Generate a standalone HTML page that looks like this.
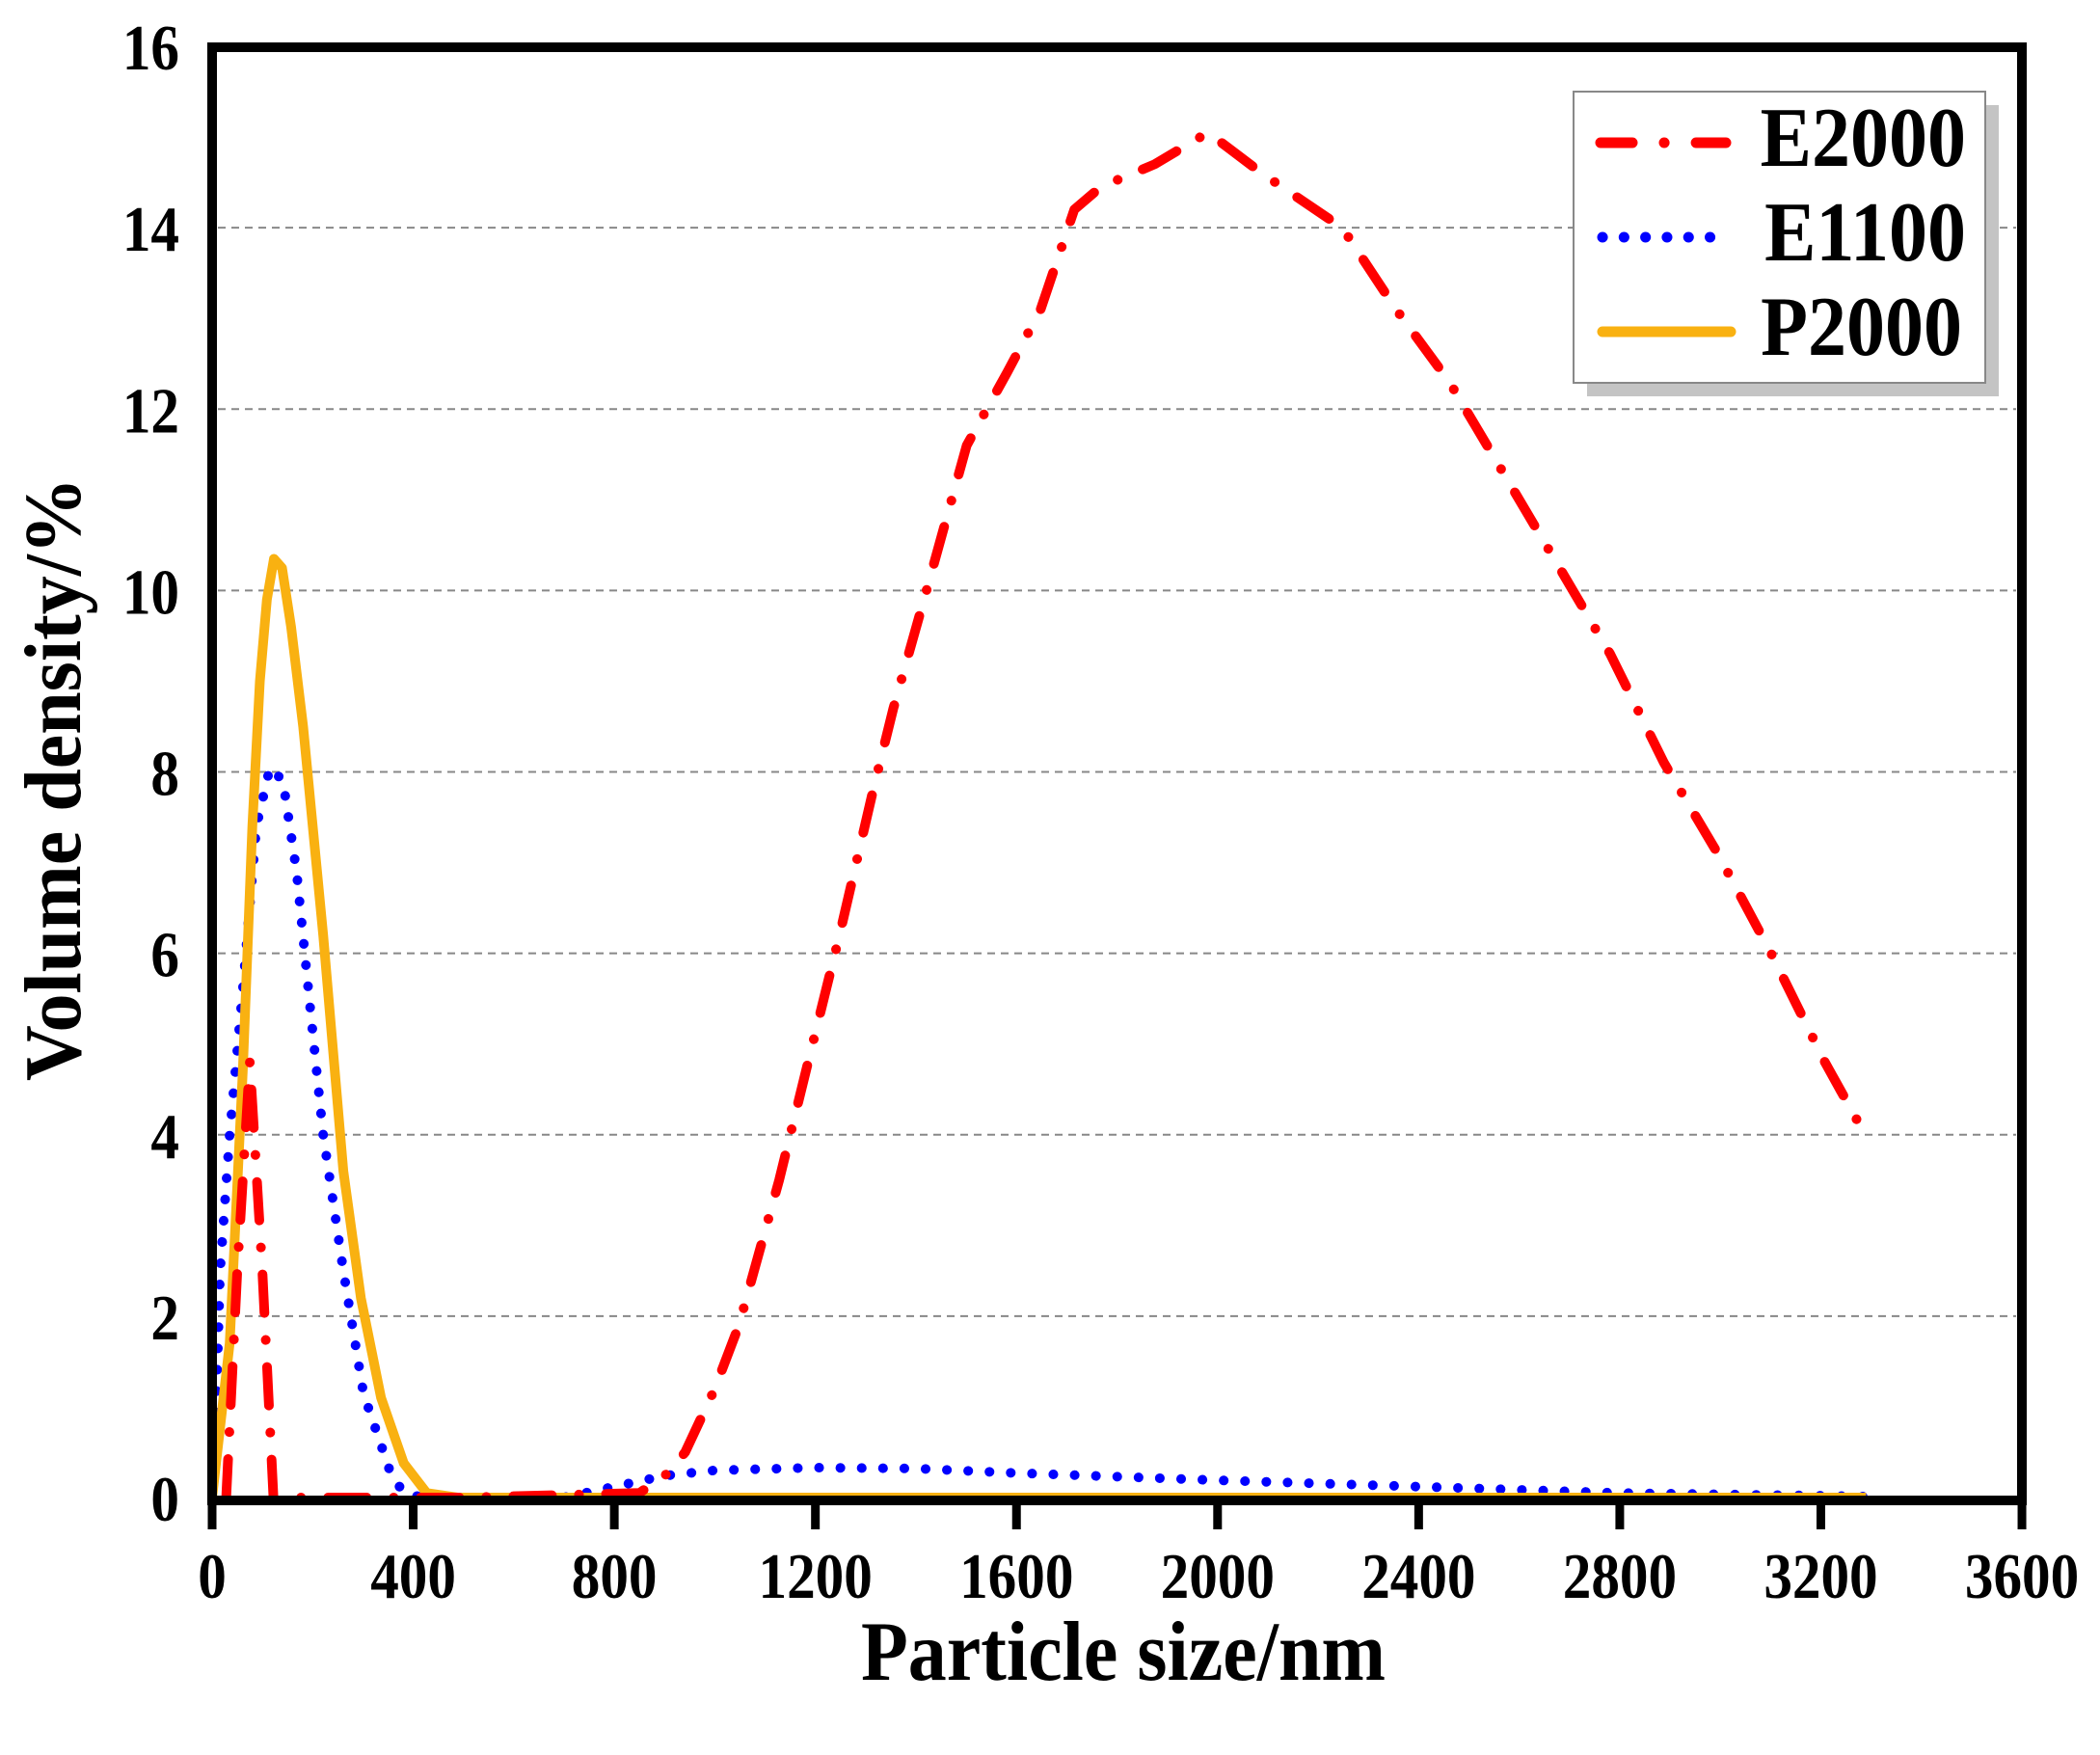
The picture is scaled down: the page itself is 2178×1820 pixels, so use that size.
<!DOCTYPE html>
<html><head><meta charset="utf-8"><style>
html,body{margin:0;padding:0;background:#fff;}
svg{display:block;}
text{font-family:"Liberation Serif","Times New Roman",serif;font-weight:bold;fill:#000;}
</style></head><body>
<svg id="s" width="2178" height="1820" viewBox="0 0 2178 1820" xmlns="http://www.w3.org/2000/svg">
<rect width="2178" height="1820" fill="#fff"/>
<g id="grid" stroke="#888" stroke-width="2" stroke-dasharray="8 6"></g>
<g id="data" fill="none" stroke-linejoin="round"></g>
<rect x="220" y="49" width="1877" height="1507" fill="none" stroke="#000" stroke-width="10"/>
<g id="ticks" stroke="#000" stroke-width="9"></g>
<g id="ylab" font-size="58" text-anchor="end"></g>
<g id="xlab" font-size="58" text-anchor="middle"></g>
<text transform="translate(1165,1742) scale(1,1.1)" font-size="80" text-anchor="middle">Particle size/nm</text>
<text transform="translate(83,808) rotate(-90) scale(1,1.05)" font-size="80" text-anchor="middle">Volume density/%</text>
<!-- legend -->
<rect x="1646" y="109" width="427" height="302" fill="#c4c4c4"/>
<rect x="1632" y="95" width="427" height="302" fill="#fff" stroke="#888" stroke-width="2"/>
<line x1="1660" y1="148" x2="1790" y2="148" stroke="#f00" stroke-width="11" stroke-linecap="round" stroke-dasharray="33 33 0.1 33"/>
<line x1="1662" y1="246" x2="1795" y2="246" stroke="#00f" stroke-width="11" stroke-linecap="round" stroke-dasharray="0.1 22.2"/>
<line x1="1662" y1="344" x2="1795" y2="344" stroke="#f9b111" stroke-width="11" stroke-linecap="round"/>
<text transform="translate(2039,172) scale(1,1.1)" font-size="80" text-anchor="end">E2000</text>
<text transform="translate(2039,270) scale(1,1.1)" font-size="80" text-anchor="end">E1100</text>
<text transform="translate(2035,368) scale(1,1.1)" font-size="80" text-anchor="end">P2000</text>
</svg>
<script>
var NS="http://www.w3.org/2000/svg";
function X(n){return 220+n*0.5214;}
function Y(v){return 1553-v*94.06;}
function el(p,t,a){var e=document.createElementNS(NS,t);for(var k in a)e.setAttribute(k,a[k]);p.appendChild(e);return e;}
var g=document.getElementById('grid');
for(var v=2;v<=14;v+=2){el(g,'line',{x1:226,x2:2091,y1:Y(v),y2:Y(v)});}
var t=document.getElementById('ticks'),xl=document.getElementById('xlab'),yl=document.getElementById('ylab');
for(var n=0;n<=3600;n+=400){el(t,'line',{x1:X(n),x2:X(n),y1:1556,y2:1586});var e=el(xl,'text',{transform:'translate('+X(n)+',1657) scale(1.02,1.15)'});e.textContent=n;}
for(var v=0;v<=16;v+=2){var e=el(yl,'text',{transform:'translate(186,'+(Y(v)+24)+') scale(1.02,1.15)'});e.textContent=v;}
function path(pts){return pts.map(function(p,i){return (i?'L':'M')+X(p[0]).toFixed(1)+' '+Y(p[1]).toFixed(1);}).join(' ');}
var d=document.getElementById('data');
var red=[[28,0],[50,2.5],[75,4.8],[100,2.5],[122,0],[200,0],[500,0],[850,0.05],[907,0.27],[941,0.5],[1000,1.2],[1048,1.9],[1128,3.5],[1181,4.7],[1248,6.2],[1315,7.8],[1355,8.7],[1421,10.0],[1501,11.6],[1581,12.4],[1648,13.1],[1715,14.2],[1768,14.45],[1875,14.7],[1981,15.05],[2088,14.6],[2248,14.0],[2355,13.1],[2461,12.3],[2568,11.3],[2675,10.3],[2781,9.3],[2888,8.1],[2995,7.1],[3101,6.0],[3208,4.8],[3288,4.0]];
var blue=[[0,0],[8,1.0],[16,2.5],[35,4.0],[61,5.6],[88,7.4],[115,8.05],[141,7.9],[168,6.9],[195,5.4],[221,4.0],[261,2.5],[301,1.15],[355,0.27],[381,0.05],[420,0],[700,0],[800,0.12],[900,0.24],[1000,0.3],[1200,0.33],[1400,0.32],[1600,0.27],[2000,0.19],[2400,0.12],[2800,0.05],[3200,0.02],[3290,0.01]];
var org=[[0,0],[35,1.7],[61,4.7],[80,7.4],[95,9.0],[109,9.9],[123,10.35],[139,10.25],[157,9.6],[181,8.5],[221,6.2],[261,3.6],[296,2.2],[336,1.1],[381,0.38],[427,0.05],[488,0],[3290,0]];
el(d,'path',{d:path(blue),stroke:'#00f','stroke-width':10,'stroke-linecap':'round','stroke-dasharray':'0.1 22'});
el(d,'path',{d:path(org),stroke:'#f9b111','stroke-width':10});
el(d,'path',{d:path(red),stroke:'#f00','stroke-width':10,'stroke-linecap':'round','stroke-dasharray':'40 28 0.1 28'});
</script>
</body></html>
